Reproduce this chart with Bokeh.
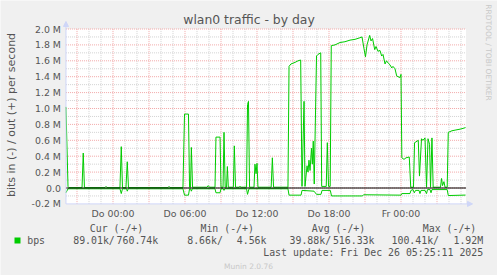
import math
from bokeh.plotting import figure
from bokeh.models import Range1d, FixedTicker, Label, Arrow, NormalHead, BoxAnnotation
from bokeh.embed import file_html
from bokeh.resources import INLINE

# ---------------- data ----------------
# time in hours relative to Thu (Do) 00:00, values in Mbit/s
t_start, t_end = -3.92, 29.42
out_hours = [-3.92, -3.75, -3.67, -2.58, -2.48, -2.38, -0.67, -0.58, -0.5, 0.58, 0.69, 0.79,
             1.08, 1.19, 1.29, 4.58, 4.67, 4.75, 5.83, 5.96, 6.29, 6.38, 6.46, 6.53, 6.63,
             7.83, 7.94, 8.04, 8.5, 8.58, 8.92, 9.0, 9.17, 9.25, 9.35, 9.46, 9.53, 9.61,
             10.03, 10.11, 10.21, 10.5, 10.58, 10.67, 11.13, 11.21, 11.29, 11.38, 11.75,
             11.83, 11.92, 12.0, 12.08, 13.18, 13.28, 13.38, 14.58, 14.67, 14.83, 15.17,
             15.42, 15.64, 15.75, 15.92, 16.0, 16.17, 16.25, 16.33, 16.42, 16.54, 16.61,
             16.69, 16.77, 16.96, 17.08, 17.31, 17.39, 17.77, 17.86, 17.96, 18.1, 18.19,
             18.5, 18.92, 19.33, 19.75, 20.17, 20.58, 20.75, 20.92, 21.04, 21.17, 21.39,
             21.5, 21.63, 21.81, 21.92, 22.08, 22.25, 22.39, 22.5, 22.67, 22.79, 22.94,
             23.08, 23.23, 23.33, 23.5, 23.64, 23.75, 23.92, 24.0, 24.07, 24.25, 24.42,
             24.69, 24.81, 25.04, 25.13, 25.25, 25.44, 25.54, 25.71, 25.83, 26.0, 26.13,
             26.25, 26.38, 26.46, 26.58, 26.68, 27.29, 27.38, 27.46, 27.58, 27.67, 27.85,
             27.94, 28.25, 28.58, 28.92, 29.17, 29.38]
out_mbps = [1.02, 0.02, 0.005, 0.005, 0.44, 0.005, 0.005, 0.02, 0.005, 0.005, 0.52, 0.005,
            0.005, 0.33, 0.005, 0.005, 0.02, 0.005, 0.005, 0.93, 0.93, 0.01, 0.01, 0.51, 0.01,
            0.01, 0.03, 0.01, 0.01, 0.64, 0.64, 0.01, 0.01, 0.70, 0.01, 0.01, 0.27, 0.01,
            0.01, 0.53, 0.01, 0.01, 0.02, 0.01, 0.01, 1.05, 1.09, 0.01, 0.01,
            0.30, 0.18, 0.31, 0.01, 0.01, 0.38, 0.01, 0.01, 1.53, 1.56, 1.58,
            1.60, 1.61, 0.02, 1.09, 0.02, 0.28, 0.20, 0.35, 0.22, 0.50, 0.30,
            0.59, 0.05, 1.66, 1.68, 1.70, 0.02, 0.02, 0.57, 0.02, 0.02, 1.79,
            1.80, 1.83, 1.84, 1.86, 1.87, 1.89, 1.90, 1.75, 1.65, 1.80, 1.92,
            1.85, 1.88, 1.74, 1.78, 1.72, 1.73, 1.66, 1.68, 1.56, 1.60, 1.57,
            1.55, 1.51, 1.53, 1.50, 1.41, 1.40, 1.39, 1.43, 0.38, 0.36, 0.38,
            0.39, 0.01, 0.01, 0.57, 0.58, 0.60, 0.15, 0.62, 0.60, 0.63, 0.01,
            0.62, 0.55, 0.01, 0.63, 0.01, 0.01, 0.12, 0.03, 0.08, 0.01, 0.01,
            0.70, 0.72, 0.73, 0.74, 0.75, 0.76]

in_hours = [-3.92, -3.75, 0.58, 0.69, 0.79, 1.13, 1.19, 1.27, 5.83, 5.96, 6.29, 6.38, 6.46,
            6.53, 6.61, 8.5, 8.58, 8.92, 9.0, 9.17, 9.25, 9.33, 11.13, 11.21, 11.33, 14.58,
            14.67, 15.67, 15.75, 16.75, 16.96, 17.33, 17.42, 18.11, 18.21, 20.79, 20.88,
            24.0, 24.07, 24.75, 24.83, 25.0, 25.11, 25.21, 25.5, 25.58, 25.67, 26.0, 26.13,
            26.21, 26.42, 26.5, 26.58, 27.85, 27.94, 29.38]
in_mbps = [0.06, 0.01, 0.01, 0.07, 0.01, 0.01, 0.04, 0.01, 0.01, 0.09, 0.09, 0.01, 0.01,
           0.04, 0.01, 0.01, 0.06, 0.06, 0.01, 0.01, 0.03, 0.01, 0.01, 0.08, 0.01, 0.01,
           0.09, 0.09, 0.03, 0.04, 0.08, 0.08, 0.03, 0.03, 0.10, 0.10, 0.085,
           0.09, 0.07, 0.07, 0.03, 0.02, 0.06, 0.03, 0.03, 0.07, 0.03, 0.03, 0.07,
           0.02, 0.02, 0.06, 0.02, 0.02, 0.095, 0.089]

x_tick_hours = [0, 6, 12, 18, 24]
x_tick_labels = ["Do 00:00", "Do 06:00", "Do 12:00", "Do 18:00", "Fr 00:00"]
y_ticks = [-0.2, 0.0, 0.2, 0.4, 0.6, 0.8, 1.0, 1.2, 1.4, 1.6, 1.8, 2.0]
y_tick_labels = ["-0.2 M", "0.0", "0.2 M", "0.4 M", "0.6 M", "0.8 M", "1.0 M", "1.2 M",
                 "1.4 M", "1.6 M", "1.8 M", "2.0 M"]
y_minor = [-0.1, 0.1, 0.3, 0.5, 0.7, 0.9, 1.1, 1.3, 1.5, 1.7, 1.9]
x_major_grid = [-3, 0, 3, 6, 9, 12, 15, 18, 21, 24, 27]
x_minor_grid = [-2, -1, 1, 2, 4, 5, 7, 8, 10, 11, 13, 14, 16, 17, 19, 20, 22, 23, 25, 26, 28, 29]
y_min, y_max = -0.2, 2.0

title_text = "wlan0 traffic - by day"
y_axis_text = "bits in (-) / out (+) per second"
legend_headers = ["Cur (-/+)", "Min (-/+)", "Avg (-/+)", "Max (-/+)"]
legend_in = ["89.01k/", "8.66k/", "39.88k/", "100.41k/"]
legend_out = ["760.74k", "4.56k", "516.33k", "1.92M"]
series_name = "bps"
last_update = "Last update: Fri Dec 26 05:25:11 2025"
footer = "Munin 2.0.76"
watermark = "RRDTOOL / TOBI OETIKER"

# ---------------- layout (canvas pixels) ----------------
W, H = 497, 275
X0_PX, PX_PER_H = 112.5, 12.0     # canvas x of hour 0, pixels per hour
Y2_PX, PX_PER_M = 28.5, 79.5      # canvas y of 2.0 M, pixels per Mbit
FONT = "#555555"
SANS = "DejaVu Sans"
MONO = "DejaVu Sans Mono"

x_lo = -X0_PX / PX_PER_H
x_hi = (W - X0_PX) / PX_PER_H
y_hi = 2.0 + Y2_PX / PX_PER_M
y_lo = 2.0 - (H - Y2_PX) / PX_PER_M

p = figure(width=W, height=H, output_backend="svg", toolbar_location=None,
           x_range=Range1d(x_lo, x_hi), y_range=Range1d(y_lo, y_hi),
           min_border=0, min_border_left=0, min_border_right=0,
           min_border_top=0, min_border_bottom=0)
p.title.visible = False
p.background_fill_color = "#F0F0F0"
p.border_fill_color = "#F0F0F0"
p.outline_line_color = None
p.grid.visible = False
p.extra_x_ranges = {"px": Range1d(0, W)}
p.extra_y_ranges = {"px": Range1d(H, 0)}

# white canvas of the graph
p.add_layout(BoxAnnotation(left=t_start, right=t_end, bottom=y_min, top=y_max,
                           fill_color="#FFFFFF", fill_alpha=1, line_color=None,
                           level="underlay"))

# axes (tick labels only, fixed inside the frame)
xa = p.xaxis[0]
xa.ticker = FixedTicker(ticks=x_tick_hours)
xa.major_label_overrides = {h: l for h, l in zip(x_tick_hours, x_tick_labels)}
xa.fixed_location = y_min
ya = p.yaxis[0]
ya.ticker = FixedTicker(ticks=y_ticks)
ya.major_label_overrides = {v: l for v, l in zip(y_ticks, y_tick_labels)}
ya.fixed_location = t_start
for ax in (xa, ya):
    ax.axis_line_color = None
    ax.major_tick_line_color = None
    ax.minor_tick_line_color = None
    ax.major_tick_out = 0
    ax.major_tick_in = 0
    ax.major_label_text_font = SANS
    ax.major_label_text_font_size = "9.4px"
    ax.major_label_text_color = FONT
xa.major_label_standoff = 4
ya.major_label_standoff = 5

# grid (dotted)
MINOR_C = "#D2D2D2"
MAJOR_C = "#F2A8A8"
p.segment(x0=t_start, x1=t_end, y0=y_minor, y1=y_minor, line_color=MINOR_C,
          line_dash="1 1", line_width=1)
p.segment(x0=x_minor_grid, x1=x_minor_grid, y0=y_min, y1=y_max, line_color=MINOR_C,
          line_dash="1 1", line_width=1)
p.segment(x0=t_start, x1=t_end, y0=y_ticks[1:], y1=y_ticks[1:], line_color=MAJOR_C,
          line_dash="1 1", line_width=1)
p.segment(x0=x_major_grid, x1=x_major_grid, y0=y_min, y1=y_max, line_color=MAJOR_C,
          line_dash="1 1", line_width=1)

# data
GREEN = "#00CC00"
p.line(out_hours, out_mbps, line_color=GREEN, line_width=1)
p.line(in_hours, [-v for v in in_mbps], line_color=GREEN, line_width=1)
p.segment(x0=[t_start], x1=[t_end], y0=[0], y1=[0], line_color="#000000", line_width=1)

# axis arrows
AX = "#CFD6F8"
gx0 = X0_PX + t_start * PX_PER_H
gy0 = Y2_PX + (2.0 - y_min) * PX_PER_M
p.add_layout(Arrow(x_start=gx0, y_start=gy0, x_end=gx0, y_end=21,
                   line_color=AX, line_width=1, x_range_name="px", y_range_name="px",
                   end=NormalHead(size=5, fill_color=AX, line_color=AX)))
p.add_layout(Arrow(x_start=gx0, y_start=gy0, x_end=472, y_end=gy0,
                   line_color=AX, line_width=1, x_range_name="px", y_range_name="px",
                   end=NormalHead(size=5, fill_color=AX, line_color=AX)))


def lab(text, x, y, size, font=SANS, color=FONT, align="left", baseline="middle", angle=0):
    p.add_layout(Label(x=x, y=y, text=text, x_range_name="px", y_range_name="px",
                       text_font=font, text_font_size=size, text_color=color,
                       text_align=align, text_baseline=baseline, angle=angle))


lab(title_text, 248.5, 19, "12.4px", align="center", baseline="alphabetic")
lab(y_axis_text, 11, 114.5, "11px", align="center", angle=math.pi / 2)
lab(watermark, 488, 52, "7.5px", color="#C8C8C8", align="center", angle=-math.pi / 2)

head_cx = [116, 226.7, 338, 449]
in_left = [72.7, 186.7, 289, 391]
out_right = [157.7, 266, 374, 482.7]
for i in range(4):
    lab(legend_headers[i], head_cx[i], 227.5, "9.9px", font=MONO, align="center")
    lab(legend_in[i], in_left[i], 240, "9.9px", font=MONO)
    lab(legend_out[i], out_right[i], 240, "9.9px", font=MONO, align="right")
lab(series_name, 26.7, 240, "9.9px", font=MONO)
p.add_layout(BoxAnnotation(left=14, right=20, top=237, bottom=243, x_range_name="px",
                           y_range_name="px", fill_color=GREEN, fill_alpha=1,
                           line_color=None))
lab(last_update, 482.7, 252, "9.9px", font=MONO, align="right")
lab(footer, 248, 266, "7.5px", color="#C8C8C8", align="center")

open("out.html", "w").write(file_html(p, INLINE))
